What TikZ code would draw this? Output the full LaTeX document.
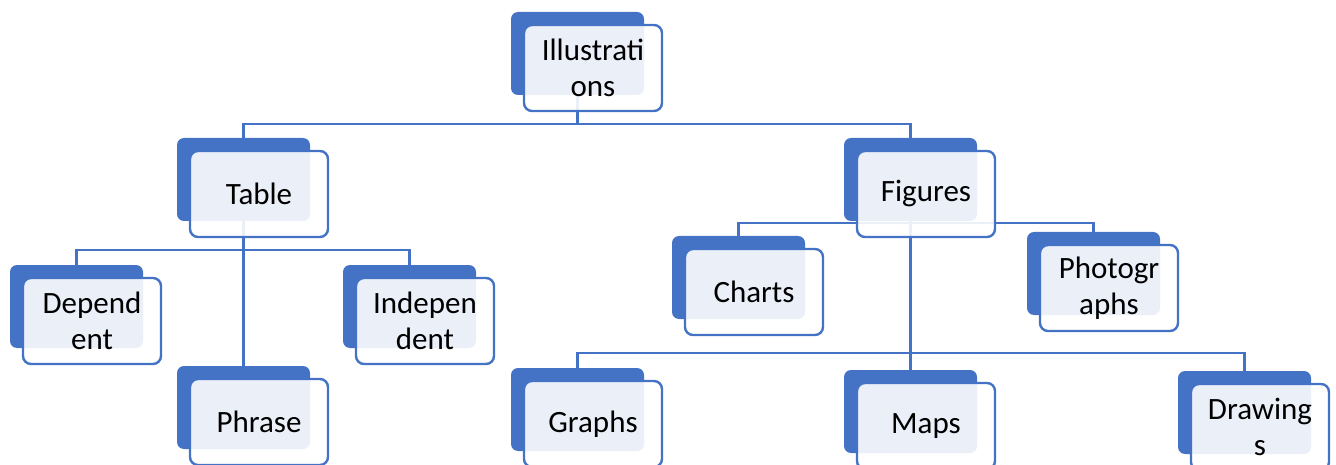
\documentclass[tikz,border=0pt]{standalone}
\usepackage{fontspec}
\setmainfont{Carlito}
\usetikzlibrary{backgrounds}
\definecolor{myblue}{HTML}{4472C4}
\tikzset{
  backbox/.style={fill=myblue, rounded corners=7pt, minimum width=133pt, minimum height=83pt, inner sep=0pt},
  frontbox/.style={draw=myblue, line width=2.4pt, fill=white, fill opacity=0.89, text opacity=1,
    rounded corners=8pt, minimum width=138pt, minimum height=86pt, inner sep=0pt, align=center,
    font=\fontsize{31}{36}\selectfont},
  link/.style={draw=myblue, line width=2.8pt}
}
\newcommand{\orgnode}[4]{%
  \node[backbox] (#1-b) at (#2-15.5,#3-14.5) {};
  \node[frontbox] (#1) at (#2,#3) {#4};
}
\begin{document}
\begin{tikzpicture}[x=1pt,y=-1pt]
\useasboundingbox (0,0) rectangle (1336,465);
\clip (0,0) rectangle (1336,465);
\orgnode{ill}{593}{68}{Illustrati\\ons}
\orgnode{table}{259}{194}{Table}
\orgnode{fig}{926}{194}{Figures}
\orgnode{dep}{92}{321}{Depend\\ent}
\orgnode{indep}{425}{321}{Indepen\\dent}
\orgnode{phrase}{259}{422}{Phrase}
\orgnode{charts}{754}{292}{Charts}
\orgnode{photo}{1109}{288}{Photogr\\aphs}
\orgnode{graphs}{593}{424}{Graphs}
\orgnode{maps}{926}{426}{Maps}
\orgnode{draw}{1260}{427}{Drawing\\s}
\begin{pgfonlayer}{background}
\coordinate (j1) at (577.5,124);
\coordinate (j2) at (243.5,250);
\coordinate (j3) at (910.5,223);
\coordinate (j4) at (910.5,353);
\draw[link] (ill-b.south) -- (j1);
\draw[link] (j1) -| (table-b.north);
\draw[link] (j1) -| (fig-b.north);
\draw[link] (table-b.south) -- (phrase-b.north);
\draw[link] (j2) -| (dep-b.north);
\draw[link] (j2) -| (indep-b.north);
\draw[link] (fig-b.south) -- (maps-b.north);
\draw[link] (j3) -| (charts-b.north);
\draw[link] (j3) -| (photo-b.north);
\draw[link] (j4) -| (graphs-b.north);
\draw[link] (j4) -| (draw-b.north);
\end{pgfonlayer}
\end{tikzpicture}
\end{document}
